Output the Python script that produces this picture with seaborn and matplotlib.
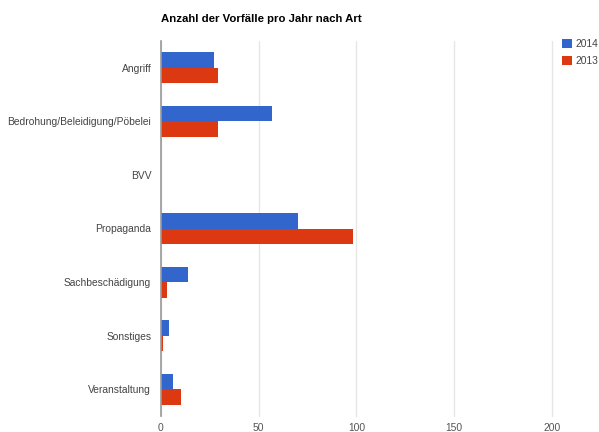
import matplotlib
matplotlib.use("Agg")
import matplotlib.pyplot as plt
import seaborn as sns
import pandas as pd

# Daten
kategorien = ['Angriff', 'Bedrohung/Beleidigung/Pöbelei', 'BVV', 'Propaganda',
              'Sachbeschädigung', 'Sonstiges', 'Veranstaltung']
werte_2014 = [27, 57, 0, 70, 14, 4, 6]
werte_2013 = [29, 29, 0, 98, 3, 1, 10]
jahre = ['2014', '2013']
farben = ['#3366CC', '#DC3912']
x_ticks = [0, 50, 100, 150, 200]

df = pd.DataFrame({
    'Art': kategorien * 2,
    'Anzahl': werte_2014 + werte_2013,
    'Jahr': [jahre[0]] * len(kategorien) + [jahre[1]] * len(kategorien),
})

sns.set_style('white')
plt.rcParams['font.family'] = ['Liberation Sans', 'DejaVu Sans']

fig = plt.figure(figsize=(5.99, 4.32), dpi=100)
ax = fig.add_axes([161 / 599, 1 - 416 / 432, (552 - 161) / 599, (416 - 41) / 432])

sns.barplot(data=df, y='Art', x='Anzahl', hue='Jahr', hue_order=jahre,
            palette=farben, orient='h', width=0.58, ax=ax, saturation=1,
            linewidth=0)

ax.set_xlim(0, 200)
ax.set_xticks(x_ticks)
ax.grid(axis='x', color='#e6e6e6', linewidth=1)
for gl in ax.get_xgridlines():
    gl.set_clip_on(False)
ax.set_axisbelow(True)
for s in ['top', 'right', 'bottom']:
    ax.spines[s].set_visible(False)
ax.spines['left'].set_color('#999999')
ax.spines['left'].set_linewidth(1.2)
ax.spines['left'].set_zorder(5)
ax.set_xlabel('')
ax.set_ylabel('')
ax.tick_params(axis='both', length=0, labelsize=7.4)
ax.tick_params(axis='y', pad=7, labelcolor='#444444')
ax.tick_params(axis='x', pad=5, labelcolor='#555555')

leg = ax.legend(loc='upper left', bbox_to_anchor=(562 / 599, 1 - 39 / 432),
                bbox_transform=fig.transFigure, frameon=False, fontsize=7.4,
                handlelength=0.95, handleheight=0.95, handletextpad=0.35,
                labelspacing=0.65, borderaxespad=0, borderpad=0)
for t in leg.get_texts():
    t.set_color('#444444')

fig.text(161 / 599, 1 - 19 / 432, 'Anzahl der Vorfälle pro Jahr nach Art',
         fontsize=8.2, fontweight='bold', color='#000000', va='center', ha='left')

fig.savefig('out.png', dpi=100)
